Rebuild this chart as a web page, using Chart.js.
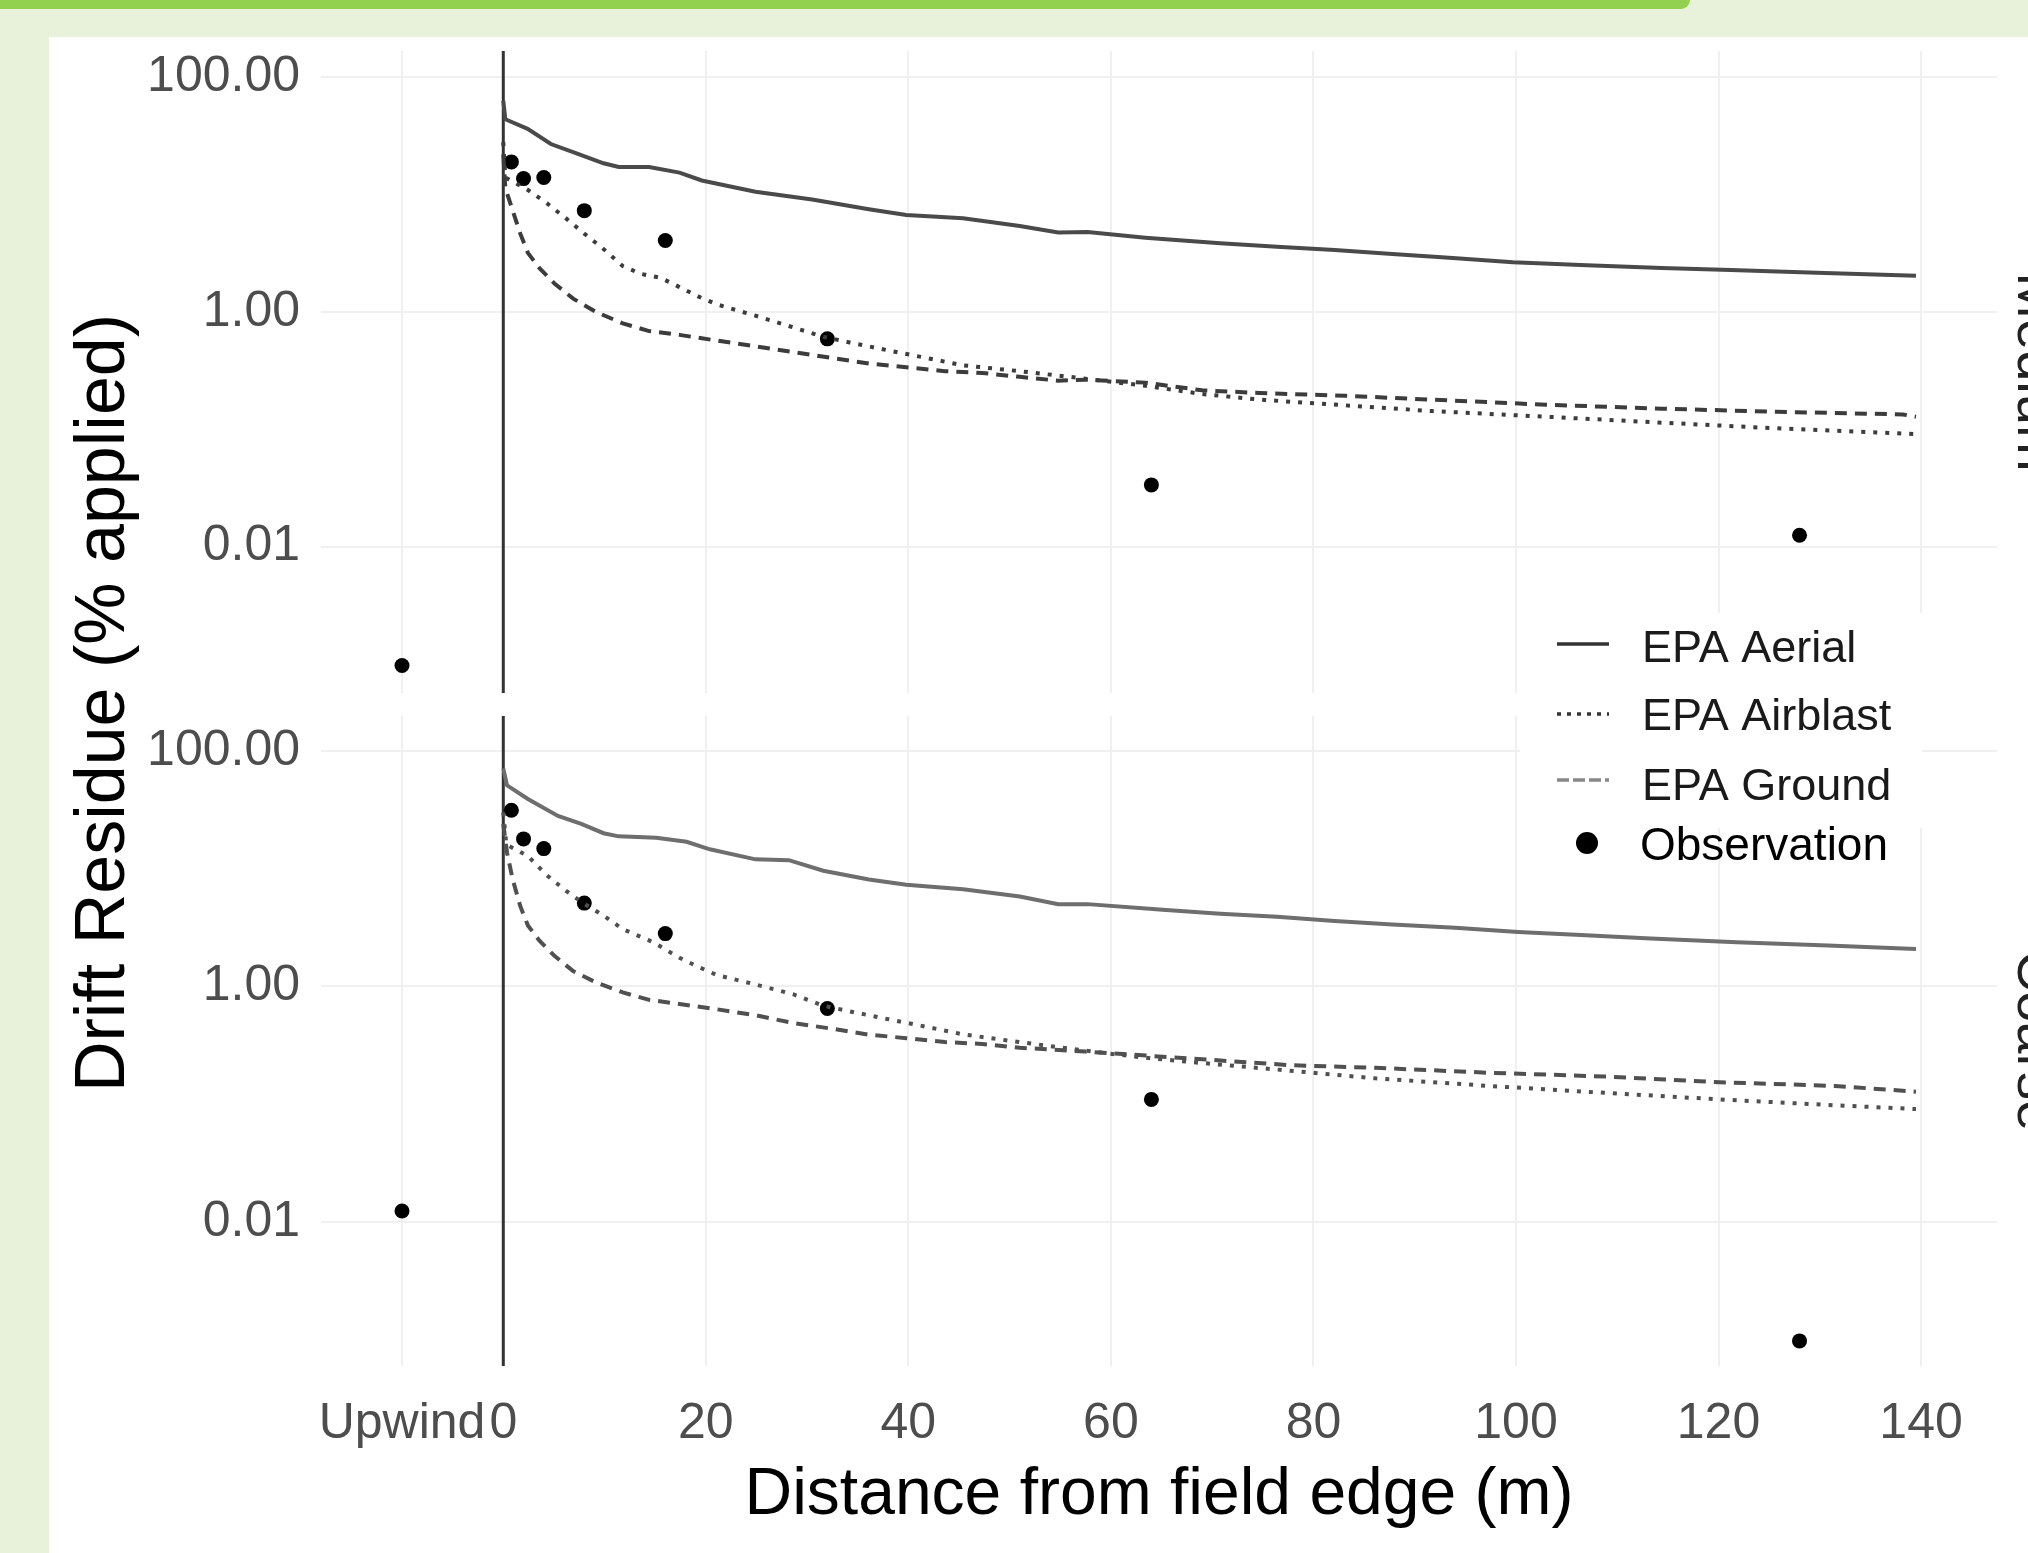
<!DOCTYPE html>
<html>
<head>
<meta charset="utf-8">
<script src="https://cdn.jsdelivr.net/npm/chart.js@4.4.1/dist/chart.umd.min.js"></script>
<style>
html, body { margin: 0; padding: 0; }
body { width: 2028px; height: 1553px; background: #e8f2da; position: relative; overflow: hidden; }
.topBar { position: absolute; left: 0; top: 0; width: 1690px; height: 9px; background: #92d050; border-bottom-right-radius: 10px; }
.sheet { position: absolute; left: 49px; top: 37px; right: 0; bottom: 0; background: #fff; }
canvas.panel { position: absolute; left: 0; top: 0; }
</style>
</head>
<body>
<div class="topBar"></div>
<div class="sheet"></div>
<canvas id="panelTop" class="panel" width="2028" height="1553"></canvas>
<canvas id="panelBottom" class="panel" width="2028" height="1553"></canvas>
<script>
// axis ticks
const xTicks = [-10, 0, 20, 40, 60, 80, 100, 120, 140];
const xTickLabels = ["Upwind", "0", "20", "40", "60", "80", "100", "120", "140"];
const yTicks = [0.01, 1, 100];
const yTickLabels = ["0.01", "1.00", "100.00"];

// observations (same distances in both panels)
const obsDist = [-10, 0.8, 2, 4, 8, 16, 32, 64, 128];
const obsMedium = [0.00097, 19.0, 13.7, 14.0, 7.3, 4.06, 0.59, 0.0336, 0.0125];
const obsCoarse = [0.0124, 31.3, 17.9, 14.8, 5.1, 2.81, 0.65, 0.11, 0.00098];

// EPA curves, medium panel
const aerialDistMedium = [0, 0.2, 2.4, 4.7, 7.3, 9.9, 11.4, 14.4, 17.4, 19.6, 24.9, 30.5, 36.1, 39.8, 45.4, 51, 54.8, 57.7, 63.4, 70.8, 76.4, 82.1, 87.8, 93.4, 99.7, 107, 114.4, 121.2, 129.7, 139.5];
const aerialMedium = [63, 43.9, 36.4, 27, 22.4, 18.5, 17.2, 17.2, 15.4, 13.2, 10.6, 9.1, 7.5, 6.7, 6.3, 5.4, 4.75, 4.8, 4.3, 3.85, 3.6, 3.37, 3.12, 2.9, 2.65, 2.5, 2.37, 2.28, 2.16, 2.04];
const airblastDistMedium = [0, 0.2, 2.4, 4.3, 6.2, 8, 9.9, 11.8, 13.6, 15.5, 17.4, 19.3, 21.1, 24.9, 28.6, 31.6, 34.2, 37.9, 41.7, 45.4, 51, 57.5, 63.4, 69, 74.7, 83.2, 91.7, 103, 114.4, 125.7, 139.5];
const airblastMedium = [28, 14, 11.0, 8.45, 6.27, 4.65, 3.44, 2.46, 2.11, 1.96, 1.63, 1.35, 1.16, 0.93, 0.74, 0.615, 0.55, 0.473, 0.407, 0.351, 0.313, 0.27, 0.235, 0.2, 0.179, 0.16, 0.143, 0.128, 0.114, 0.102, 0.091];
const groundDistMedium = [0, 0.2, 0.93, 1.68, 2.43, 3.55, 5.05, 6.9, 9.16, 11.8, 14.4, 17.4, 21.1, 24.9, 28.6, 32.3, 36.1, 39.8, 43.6, 47.3, 51, 54.8, 57.5, 63.4, 69, 74.7, 83.2, 91.7, 103, 114.4, 125.7, 138.2, 139.5];
const groundMedium = [22, 11.4, 7.3, 4.65, 3.19, 2.37, 1.75, 1.3, 1.0, 0.8, 0.687, 0.638, 0.57, 0.51, 0.456, 0.407, 0.364, 0.338, 0.313, 0.302, 0.28, 0.26, 0.265, 0.25, 0.215, 0.204, 0.193, 0.179, 0.162, 0.15, 0.141, 0.134, 0.128];

// EPA curves, coarse panel
const aerialDistCoarse = [0, 0.37, 2.43, 5.4, 7.7, 9.9, 11.4, 15.1, 18.1, 20.4, 24.9, 28.2, 31.6, 36.1, 39.8, 45.4, 51, 54.8, 57.7, 65.1, 70.8, 76.4, 82.1, 87.8, 94, 100.2, 105.9, 113.3, 121.8, 130.8, 139.5];
const aerialCoarse = [71, 51, 39, 28, 24, 20, 18.8, 18.3, 16.9, 14.6, 12, 11.8, 9.6, 8.1, 7.3, 6.7, 5.8, 5.0, 5.0, 4.47, 4.15, 3.9, 3.6, 3.36, 3.15, 2.9, 2.75, 2.55, 2.37, 2.23, 2.08];
const airblastDistCoarse = [0, 0.3, 2.43, 4.3, 6.17, 8.04, 9.9, 11.8, 14.4, 15.5, 17.4, 19.3, 21.1, 24.9, 28.6, 31.6, 34.2, 37.9, 41.7, 45.4, 51, 57.5, 63, 69, 77.6, 86.1, 97.4, 108.8, 120.1, 131.5, 139.5];
const airblastCoarse = [30, 16, 12.8, 8.8, 6.5, 5.0, 4.0, 3.07, 2.46, 2.19, 1.75, 1.46, 1.25, 1.04, 0.86, 0.687, 0.615, 0.53, 0.456, 0.392, 0.337, 0.285, 0.25, 0.224, 0.193, 0.166, 0.143, 0.125, 0.11, 0.098, 0.091];
const groundDistCoarse = [0, 0.37, 0.93, 1.68, 2.43, 3.55, 5.05, 6.9, 9.16, 11.8, 14.4, 17.4, 21.1, 24.9, 28.6, 32.3, 36.1, 39.8, 43.6, 47.3, 51, 57.5, 69, 77.6, 86.1, 97.4, 108.8, 120.1, 131.5, 139.5];
const groundCoarse = [24, 13.7, 8.1, 4.8, 3.3, 2.46, 1.82, 1.35, 1.08, 0.89, 0.77, 0.71, 0.64, 0.57, 0.49, 0.44, 0.39, 0.364, 0.337, 0.325, 0.302, 0.28, 0.241, 0.215, 0.204, 0.185, 0.172, 0.154, 0.143, 0.128];

const fontFam = "'Liberation Sans', Arial, sans-serif";

function pairs(xs, ys) {
  return xs.map((x, i) => ({ x: x, y: ys[i] }));
}

// geom_vline at 0 + rotated strip label on the right
function panelDecor(stripText) {
  return {
    id: "panelDecor",
    beforeDatasetsDraw(chart) {
      let ctx = chart.ctx;
      let area = chart.chartArea;
      let x0 = chart.scales.x.getPixelForValue(0);
      ctx.save();
      ctx.strokeStyle = "#333";
      ctx.lineWidth = 3;
      ctx.beginPath();
      ctx.moveTo(x0, area.top);
      ctx.lineTo(x0, area.bottom);
      ctx.stroke();
      ctx.restore();
    },
    afterDraw(chart) {
      let ctx = chart.ctx;
      let area = chart.chartArea;
      ctx.save();
      ctx.translate(2018, (area.top + area.bottom) / 2);
      ctx.rotate(Math.PI / 2);
      ctx.fillStyle = "#222";
      ctx.font = "56px " + fontFam;
      ctx.textAlign = "center";
      ctx.textBaseline = "alphabetic";
      ctx.fillText(stripText, 0, 0);
      ctx.restore();
    },
  };
}

// y title and legend, drawn on the upper canvas
const overlay = {
  id: "overlay",
  afterDraw(chart) {
    let ctx = chart.ctx;
    ctx.save();
    ctx.translate(124, 703);
    ctx.rotate(-Math.PI / 2);
    ctx.fillStyle = "#000";
    ctx.font = "70px " + fontFam;
    ctx.textAlign = "center";
    ctx.textBaseline = "alphabetic";
    ctx.fillText("Drift Residue (% applied)", 0, 0);
    ctx.restore();

    ctx.save();
    ctx.fillStyle = "#fff";
    ctx.fillRect(1520, 613, 402, 215);
    let keys = [
      { y: 644, dash: [], color: "#333" },
      { y: 714, dash: [4, 6], color: "#333" },
      { y: 780, dash: [12, 4], color: "#888" },
    ];
    ctx.lineWidth = 3.5;
    keys.forEach((k) => {
      ctx.setLineDash(k.dash);
      ctx.strokeStyle = k.color;
      ctx.beginPath();
      ctx.moveTo(1557, k.y);
      ctx.lineTo(1609, k.y);
      ctx.stroke();
    });
    ctx.setLineDash([]);
    ctx.fillStyle = "#000";
    ctx.beginPath();
    ctx.arc(1587, 843, 11, 0, Math.PI * 2);
    ctx.fill();
    ctx.textAlign = "left";
    ctx.textBaseline = "alphabetic";
    ctx.fillStyle = "#1a1a1a";
    ctx.font = "45px " + fontFam;
    ctx.fillText("EPA Aerial", 1642, 662);
    ctx.fillText("EPA Airblast", 1642, 730);
    ctx.fillText("EPA Ground", 1642, 800);
    ctx.fillStyle = "#000";
    ctx.font = "46px " + fontFam;
    ctx.fillText("Observation", 1640, 860);
    ctx.restore();
  },
};

function makePanel(canvas, p) {
  let datasets = [
    { label: "EPA Aerial", data: pairs(p.aerialDist, p.aerial), showLine: true, pointRadius: 0, borderColor: p.solidColor, borderWidth: 4, tension: 0 },
    { label: "EPA Airblast", data: pairs(p.airblastDist, p.airblast), showLine: true, pointRadius: 0, borderColor: p.dashColor, borderWidth: 4, borderDash: [4, 8], tension: 0 },
    { label: "EPA Ground", data: pairs(p.groundDist, p.ground), showLine: true, pointRadius: 0, borderColor: p.dashColor, borderWidth: 4, borderDash: [12, 8], tension: 0 },
    { label: "Observation", data: pairs(obsDist, p.obs), showLine: false, pointRadius: 7.5, backgroundColor: "#000", borderWidth: 0 },
  ];
  let plugins = [panelDecor(p.strip)];
  if (p.bottom) plugins.push(overlay);
  return new Chart(canvas, {
    type: "scatter",
    data: { datasets: datasets },
    plugins: plugins,
    options: {
      responsive: false,
      animation: false,
      layout: { padding: p.padding },
      plugins: { legend: { display: false }, tooltip: { enabled: false } },
      scales: {
        x: {
          type: "linear",
          min: -18,
          max: 147.5,
          afterBuildTicks: (s) => { s.ticks = xTicks.map((v) => ({ value: v })); },
          afterFit: (s) => { s.height = p.bottom ? 187 : 0; },
          grid: { color: "#f0f0f0", lineWidth: 2, drawTicks: false },
          border: { display: false },
          ticks: {
            display: p.bottom,
            autoSkip: false,
            maxRotation: 0,
            padding: 28,
            color: "#4d4d4d",
            font: { family: fontFam, size: 50 },
            callback: (v, i) => xTickLabels[i],
          },
          title: {
            display: p.bottom,
            text: "Distance from field edge (m)",
            color: "#000",
            font: { family: fontFam, size: 66 },
            padding: { top: 0, bottom: 18 },
          },
        },
        y: {
          type: "logarithmic",
          min: Math.pow(10, p.logMin),
          max: Math.pow(10, p.logMax),
          afterBuildTicks: (s) => { s.ticks = yTicks.map((v) => ({ value: v })); },
          afterFit: (s) => { s.width = 321; },
          grid: { color: "#f0f0f0", lineWidth: 2, drawTicks: false },
          border: { display: false },
          ticks: {
            padding: 21,
            color: "#4d4d4d",
            font: { family: fontFam, size: 50 },
            callback: (v, i) => yTickLabels[i],
          },
        },
      },
    },
  });
}

makePanel(document.getElementById("panelTop"), {
  strip: "Medium",
  bottom: false,
  padding: { left: 0, right: 31, top: 46, bottom: 860 },
  logMin: -3.247,
  logMax: 2.224,
  solidColor: "#4a4a4a",
  dashColor: "#3c3c3c",
  aerialDist: aerialDistMedium, aerial: aerialMedium,
  airblastDist: airblastDistMedium, airblast: airblastMedium,
  groundDist: groundDistMedium, ground: groundMedium,
  obs: obsMedium,
});

makePanel(document.getElementById("panelBottom"), {
  strip: "Coarse",
  bottom: true,
  padding: { left: 0, right: 31, top: 716, bottom: 0 },
  logMin: -3.201,
  logMax: 2.296,
  solidColor: "#6e6e6e",
  dashColor: "#505050",
  aerialDist: aerialDistCoarse, aerial: aerialCoarse,
  airblastDist: airblastDistCoarse, airblast: airblastCoarse,
  groundDist: groundDistCoarse, ground: groundCoarse,
  obs: obsCoarse,
});
</script>
</body>
</html>
